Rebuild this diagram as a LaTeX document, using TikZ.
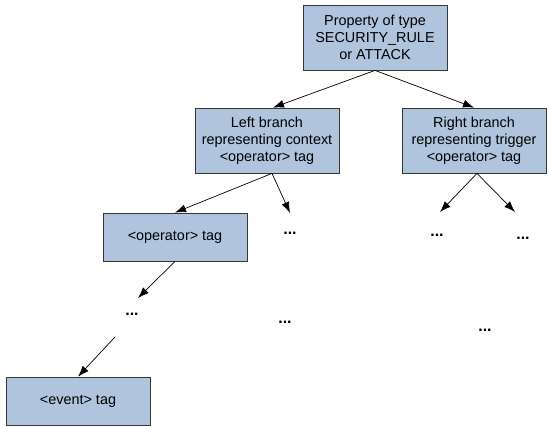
\documentclass[tikz,border=0pt]{standalone}
\usepackage{fontspec}
\setmainfont{Liberation Sans}
\usetikzlibrary{arrows.meta,positioning}
\definecolor{boxblue}{RGB}{176,196,222}
\definecolor{boxline}{RGB}{55,55,55}

\begin{document}
\begin{tikzpicture}[x=1pt, y=-1pt, font=\fontsize{14.4}{17}\selectfont]

\tikzstyle{tagbox} = [draw=boxline, fill=boxblue, line width=0.8pt, minimum width=144pt, inner sep=2pt, align=center]
\tikzstyle{dotsnode} = [inner sep=0pt, font=\fontsize{16}{17}\selectfont\bfseries]
\tikzstyle{link} = [-{Latex[length=11pt,width=8pt]}, black, line width=0.7pt]

\useasboundingbox (0,0) rectangle (549,427);

\node[tagbox, minimum height=65pt] (root) at (375,37.5) {Property of type\\SECURITY\_RULE\\or ATTACK};
\node[tagbox, minimum height=65pt] (left) at (267,140.5) {Left branch\\representing context\\<operator> tag};
\node[tagbox, minimum height=65pt] (right) at (474,140.5) {Right branch\\representing trigger\\<operator> tag};
\node[tagbox, minimum height=48pt] (op) at (175,237) {<operator> tag};
\node[tagbox, minimum height=48pt] (event) at (78,401) {<event> tag};

\node[dotsnode] (d1) at (290,233) {...};
\node[dotsnode] (d2) at (132,314) {...};
\node[dotsnode] (d3) at (285,322) {...};
\node[dotsnode] (d4) at (437,235) {...};
\node[dotsnode] (d5) at (523,238) {...};
\node[dotsnode] (d6) at (485,330) {...};

\coordinate (e1) at (290,213);
\coordinate (e2) at (138,298);
\coordinate (s3) at (115,337);
\coordinate (e4) at (440,212);
\coordinate (e5) at (515,212);

\draw[link] (root.south) -- ([xshift=6pt]left.north);
\draw[link] (root.south) -- (right.north);
\draw[link] ([xshift=5pt]left.south) -- (op.north);
\draw[link] ([xshift=5pt]left.south) -- (e1);
\draw[link] (op.south) -- (e2);
\draw[link] (s3) -- (event.north);
\draw[link] ([xshift=3pt]right.south) -- (e4);
\draw[link] ([xshift=3pt]right.south) -- (e5);

\end{tikzpicture}
\end{document}
